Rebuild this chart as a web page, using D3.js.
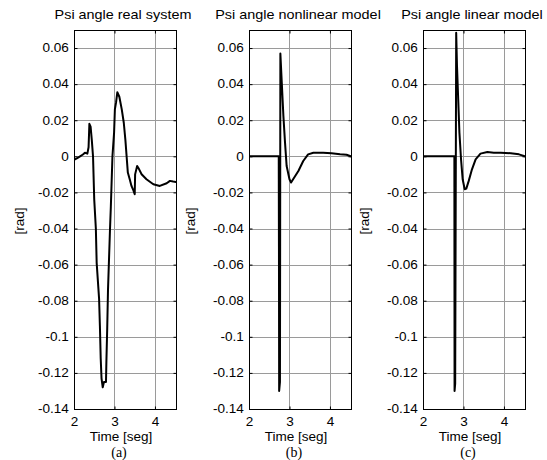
<!DOCTYPE html>
<html><head><meta charset="utf-8">
<script src="https://cdn.jsdelivr.net/npm/d3@7"></script>
<style>body{margin:0;background:#fff}</style>
</head><body><svg id="c" width="547" height="460"></svg>
<script>
// ---- data ----
const titles = ["Psi angle real system", "Psi angle nonlinear model", "Psi angle linear model"];
const captions = ["(a)", "(b)", "(c)"];
const xLabel = "Time [seg]";
const yLabel = "[rad]";
const xDomain = [2, 4.52];
const yDomain = [-0.14, 0.07];
const xTicks = [2, 3, 4];
const xTickLabels = ["2", "3", "4"];
const yTicks = [-0.14, -0.12, -0.1, -0.08, -0.06, -0.04, -0.02, 0, 0.02, 0.04, 0.06];
const yTickLabels = ["-0.14", "-0.12", "-0.1", "-0.08", "-0.06", "-0.04", "-0.02", "0", "0.02", "0.04", "0.06"];

const realTime = [2.00, 2.08, 2.15, 2.22, 2.27, 2.33, 2.36, 2.38, 2.41, 2.44, 2.47, 2.50, 2.54, 2.56, 2.62, 2.64, 2.66, 2.68, 2.71, 2.74, 2.79, 2.80, 2.82, 2.84, 2.89, 2.91, 2.95, 2.99, 3.01, 3.04, 3.07, 3.12, 3.18, 3.23, 3.27, 3.33, 3.38, 3.42, 3.47, 3.50, 3.51, 3.56, 3.60, 3.67, 3.79, 3.96, 4.12, 4.29, 4.37, 4.45, 4.52];
const realPsi  = [-0.002, -0.001, 0.000, 0.001, 0.002, 0.0015, 0.005, 0.018, 0.0165, 0.009, 0.000, -0.024, -0.040, -0.059, -0.079, -0.094, -0.112, -0.123, -0.128, -0.125, -0.125, -0.114, -0.096, -0.074, -0.040, -0.028, 0.000, 0.013, 0.026, 0.030, 0.0355, 0.033, 0.026, 0.0186, 0.009, -0.009, -0.013, -0.0164, -0.019, -0.021, -0.010, -0.0054, -0.0068, -0.0099, -0.0127, -0.0155, -0.0164, -0.0149, -0.0136, -0.014, -0.0142];

const nonlinTime = [2.00, 2.735, 2.74, 2.745, 2.765, 2.775, 2.81, 2.85, 2.89, 2.93, 3.00, 3.04, 3.09, 3.22, 3.34, 3.46, 3.59, 3.83, 4.04, 4.25, 4.41, 4.52];
const nonlinPsi  = [0, 0, -0.05, -0.130, -0.125, 0.057, 0.0407, 0.0223, 0.0076, -0.0054, -0.0127, -0.0145, -0.0127, -0.0081, -0.0026, 0.0011, 0.002, 0.002, 0.0017, 0.0011, 0.0009, 0.0];

const linTime = [2.00, 2.775, 2.78, 2.795, 2.82, 2.84, 2.87, 2.90, 2.94, 2.98, 3.03, 3.07, 3.13, 3.21, 3.30, 3.42, 3.59, 3.75, 3.92, 4.17, 4.37, 4.52];
const linPsi  = [0, 0, -0.130, -0.126, 0.0685, 0.050, 0.0315, 0.013, -0.0017, -0.0127, -0.0182, -0.0179, -0.0136, -0.0072, -0.0017, 0.0015, 0.0024, 0.002, 0.002, 0.0017, 0.0011, 0.0];

// ---- layout ----
const series = [[realTime, realPsi], [nonlinTime, nonlinPsi], [linTime, linPsi]];
const lefts = [74, 249, 423];
const yLabelX = [24, 195, 369];
const W = 102, TOP = 30, BOTTOM = 409;
const FONT = "'Liberation Sans', Arial, sans-serif";
const SX = 1.13, STITLE = 1.2;

const svg = d3.select("#c");

series.forEach(([t, v], i) => {
  const L = lefts[i];
  const x = d3.scaleLinear().domain(xDomain).range([L, L + W]);
  const y = d3.scaleLinear().domain(yDomain).range([BOTTOM, TOP]);
  const g = svg.append("g");

  // grid
  g.append("g").selectAll("line").data(yTicks).join("line")
    .attr("x1", L).attr("x2", L + W)
    .attr("y1", d => Math.round(y(d)) + 0.5).attr("y2", d => Math.round(y(d)) + 0.5)
    .attr("stroke", "#9a9a9a").attr("stroke-width", 1);
  g.append("g").selectAll("line").data(xTicks.slice(1)).join("line")
    .attr("y1", TOP).attr("y2", BOTTOM)
    .attr("x1", d => Math.round(x(d)) + 0.5).attr("x2", d => Math.round(x(d)) + 0.5)
    .attr("stroke", "#9a9a9a").attr("stroke-width", 1);

  // data
  const clipId = "clip" + i;
  svg.append("clipPath").attr("id", clipId).append("rect")
    .attr("x", L).attr("y", TOP).attr("width", W).attr("height", BOTTOM - TOP);
  const line = d3.line().x((d, k) => x(t[k])).y(d => y(d));
  g.append("path").datum(v).attr("d", line)
    .attr("fill", "none").attr("stroke", "#000").attr("stroke-width", 2)
    .attr("stroke-linejoin", "round").attr("stroke-linecap", "round")
    .attr("clip-path", `url(#${clipId})`);

  // axes (inward ticks like MATLAB)
  const axL = g.append("g").attr("transform", `translate(${L + 0.5},0)`)
    .call(d3.axisLeft(y).tickValues(yTicks).tickFormat((d, k) => yTickLabels[k])
      .tickSizeInner(-3).tickSizeOuter(0).tickPadding(5));
  const axR = g.append("g").attr("transform", `translate(${L + W + 0.5},0)`)
    .call(d3.axisRight(y).tickValues(yTicks).tickFormat("").tickSizeInner(-3).tickSizeOuter(0));
  const axB = g.append("g").attr("transform", `translate(0,${BOTTOM + 0.5})`)
    .call(d3.axisBottom(x).tickValues(xTicks).tickFormat((d, k) => xTickLabels[k])
      .tickSizeInner(-3).tickSizeOuter(0).tickPadding(7.5));
  const axT = g.append("g").attr("transform", `translate(0,${TOP + 0.5})`)
    .call(d3.axisTop(x).tickValues(xTicks).tickFormat("").tickSizeInner(-3).tickSizeOuter(0));
  [axL, axR, axB, axT].forEach(a => {
    a.select(".domain").remove();
    a.selectAll("line").attr("stroke", "#000");
    a.selectAll("text").attr("fill", "#000").attr("font-family", FONT).attr("font-size", 12);
  });
  axL.selectAll("text").attr("transform", `scale(${SX},1)`);
  axB.selectAll("text").attr("transform", `scale(${SX},1)`);

  // box
  g.append("rect").attr("x", L + 0.5).attr("y", TOP + 0.5).attr("width", W).attr("height", BOTTOM - TOP)
    .attr("fill", "none").attr("stroke", "#000").attr("stroke-width", 1);

  // title
  g.append("text").attr("transform", `translate(${L + W / 2 - 2},19) scale(${STITLE},1)`)
    .attr("text-anchor", "middle").attr("font-family", FONT).attr("font-size", 12).text(titles[i]);
  // x label
  g.append("text").attr("transform", `translate(${L + W / 2 - 4},441) scale(${SX},1)`)
    .attr("text-anchor", "middle").attr("font-family", FONT).attr("font-size", 12).text(xLabel);
  // y label
  g.append("text").attr("transform", `translate(${yLabelX[i]},221) rotate(-90) scale(${SX},1)`)
    .attr("text-anchor", "middle").attr("font-family", FONT).attr("font-size", 12).text(yLabel);
  // caption
  g.append("text").attr("x", L + W / 2 - 6).attr("y", 457)
    .attr("text-anchor", "middle").attr("font-family", "'Liberation Serif', 'Times New Roman', serif")
    .attr("font-size", 14).text(captions[i]);
});
</script>
</body></html>
